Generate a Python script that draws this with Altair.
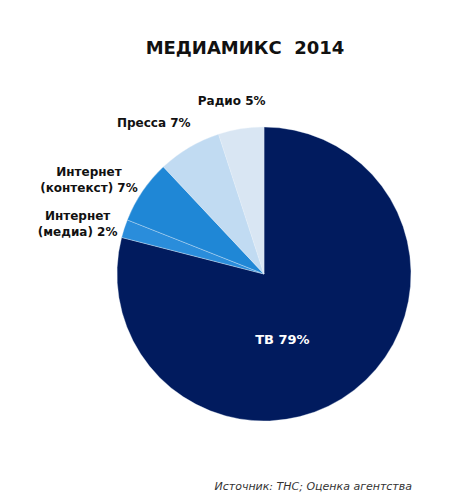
import altair as alt
import pandas as pd

categories = ["ТВ", "Интернет (медиа)", "Интернет (контекст)", "Пресса", "Радио"]
values = [79, 2, 7, 7, 5]
labels = ["ТВ 79%", "Интернет\n(медиа) 2%", "Интернет\n(контекст) 7%", "Пресса 7%", "Радио 5%"]
colors = ["#011b5e", "#2a8ddb", "#1f87d6", "#c1dbf2", "#d9e6f3"]
title_text = "МЕДИАМИКС\u00a0\u00a02014"
source_text = "Источник: ТНС; Оценка агентства"

df = pd.DataFrame({"cat": categories, "value": values, "label": labels, "idx": list(range(len(values)))})

FONT = "DejaVu Sans"
base = alt.Chart(df).transform_window(
    end="sum(value)", sort=[alt.SortField("idx")], frame=[None, 0]
).transform_calculate(
    start="datum.end - datum.value", mid="datum.end - datum.value / 2"
)

theta_scale = alt.Scale(domain=[0, sum(values)], range=[0, 6.283185307])

arcs = base.mark_arc(radius=147, stroke="#e8f0f8", strokeWidth=0.35).encode(
    theta=alt.Theta("start:Q", scale=theta_scale, stack=None),
    theta2="end:Q",
    color=alt.Color("cat:N", scale=alt.Scale(domain=categories, range=colors), legend=None),
)

# label placement styles (radius, dx, dy, color, size)
label_style = {
    "ТВ": (74, -27, 8, "white", 13),
    "Интернет (медиа)": (196, 0, 3, "#111111", 12),
    "Интернет (контекст)": (202, -8, 12, "#111111", 12),
    "Пресса": (187, -15, 10, "#111111", 12),
    "Радио": (175, -5, 0, "#111111", 12),
}

layers = [arcs]
for cat, (r, dx, dy, col, fs) in label_style.items():
    layers.append(
        base.transform_filter(alt.datum.cat == cat).mark_text(
            radius=r, dx=dx, dy=dy, font=FONT, fontWeight="bold", fontSize=fs,
            color=col, lineBreak="\n", align="center", baseline="middle", lineHeight=16,
        ).encode(
            theta=alt.Theta("mid:Q", scale=theta_scale, stack=None),
            text="label:N",
        )
    )

source = alt.Chart(pd.DataFrame({"t": [source_text]})).mark_text(
    font=FONT, fontStyle="italic", fontSize=11, color="#333333", align="right", baseline="middle"
).encode(text="t:N", x=alt.value(328), y=alt.value(399))
layers.append(source)

chart = alt.layer(*layers).properties(
    width=360, height=372,
    padding={"left": 76, "top": 80, "right": 1, "bottom": 32},
    autosize=alt.AutoSizeParams(type="none"),
    title=alt.TitleParams(title_text, font=FONT, fontSize=18, fontWeight="bold", color="#111111",
                          anchor="middle", dx=-19, offset=30),
).configure_view(stroke=None)

chart.save("out.html", embed_options={"renderer": "svg", "actions": False})
